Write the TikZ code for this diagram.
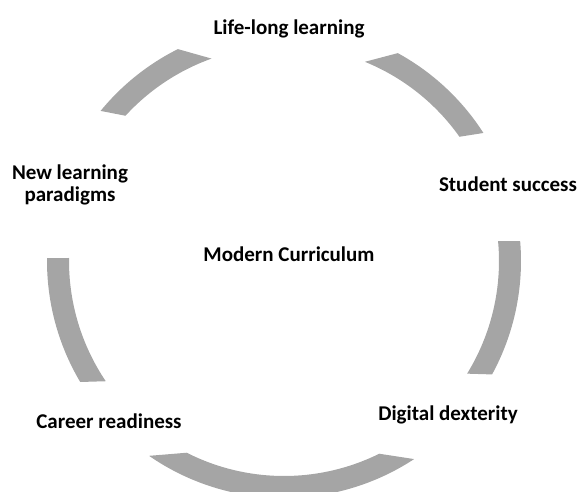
\documentclass[tikz,border=0pt]{standalone}
\usepackage{fontspec}
\setmainfont{Carlito}
\definecolor{arcgray}{RGB}{165,165,165}
\begin{document}
\begin{tikzpicture}[x=1pt,y=-1pt,
  lbl/.style={font=\bfseries\fontsize{21}{22.5}\selectfont, inner sep=0pt, anchor=base, align=center},
  ringpart/.style={fill=arcgray, draw=none}]
\useasboundingbox (0,0) rectangle (579,492);
\clip (0,0) rectangle (579,492);
\coordinate (c) at (284,261);
% top-left arc
\fill[ringpart] ([shift={(-116.6:237)}]c) arc[start angle=-116.6, end angle=-140.7, radius=237]
  -- ([shift={(-137.5:215)}]c) arc[start angle=-137.5, end angle=-109.7, radius=215] -- cycle;
% top-right arc
\fill[ringpart] ([shift={(-61.3:237)}]c) arc[start angle=-61.3, end angle=-32.7, radius=237]
  -- ([shift={(-35.3:215)}]c) arc[start angle=-35.3, end angle=-67.9, radius=215] -- cycle;
% right arc
\fill[ringpart] ([shift={(-4.8:237)}]c) arc[start angle=-4.8, end angle=28.6, radius=237]
  -- ([shift={(31.6:215)}]c) arc[start angle=31.6, end angle=-5.3, radius=215] -- cycle;
% bottom arc
\fill[ringpart] ([shift={(124.7:237)}]c) arc[start angle=124.7, end angle=56.7, radius=237]
  -- ([shift={(63.7:215)}]c) arc[start angle=63.7, end angle=116.9, radius=215] -- cycle;
% left arc
\fill[ringpart] ([shift={(180.7:237)}]c) arc[start angle=180.7, end angle=149.3, radius=237]
  -- ([shift={(146:215)}]c) arc[start angle=146, end angle=180.8, radius=215] -- cycle;
% labels
\node[lbl] (life) at (289,34.5) {Life-long learning};
\node[lbl] (newp) at (70,202) {New learning\\paradigms};
\node[lbl] (succ) at (508,191.5) {Student success};
\node[lbl] (modern) at (289,261.5) {Modern Curriculum};
\node[lbl] (career) at (109,428.5) {Career readiness};
\node[lbl] (digital) at (448,420.5) {Digital dexterity};
\end{tikzpicture}
\end{document}
